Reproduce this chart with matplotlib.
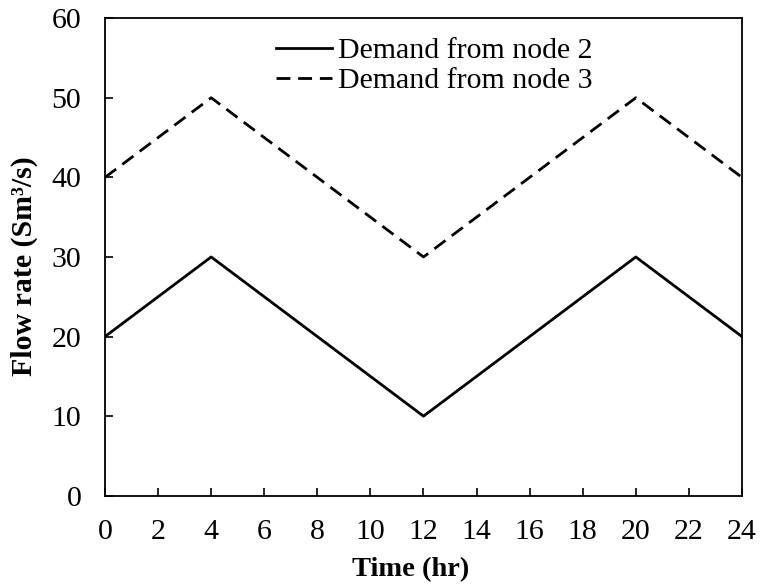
import matplotlib
matplotlib.use("Agg")
import matplotlib.pyplot as plt

time_hr = [0, 4, 12, 20, 24]
node2 = [20, 30, 10, 30, 20]
node3 = [40, 50, 30, 50, 40]
xticks = list(range(0, 25, 2))
yticks = list(range(0, 61, 10))

plt.rcParams['font.family'] = ['Liberation Serif', 'DejaVu Serif']
plt.rcParams['font.size'] = 21.5

fig = plt.figure(figsize=(7.61, 5.86), dpi=100)
ax = fig.add_axes([0.138, 0.154, 0.837, 0.815])
ax.plot(time_hr, node2, color='black', lw=2.0, label='Demand from node 2')
ax.plot(time_hr, node3, color='black', lw=2.0, ls=(0, (5, 2.8)), label='Demand from node 3')
ax.set_xlim(0, 24)
ax.set_ylim(0, 60)
ax.set_xticks(xticks)
ax.set_yticks(yticks)
ax.tick_params(direction='in', length=6, width=1.2, labelsize=21.5)
ax.tick_params(axis='x', pad=17)
ax.tick_params(axis='y', pad=17)
for s in ax.spines.values():
    s.set_linewidth(1.3)
ax.set_xlabel('Time (hr)', fontweight='bold', fontsize=20.5)
ax.xaxis.label.set_va('baseline')
ax.xaxis.set_label_coords(0.48, -0.168)
ax.set_ylabel('Flow rate (Sm\u00b3/s)', fontweight='bold', fontsize=21.5)
ax.yaxis.label.set_va('center')
ax.yaxis.set_label_coords(-0.127, 0.481)
ax.legend(loc='upper center', bbox_to_anchor=(0.517, 0.985), frameon=False,
          handlelength=1.85, handletextpad=0.2, labelspacing=0.1, fontsize=21.5,
          borderaxespad=0)
fig.savefig('out.png', dpi=100)
